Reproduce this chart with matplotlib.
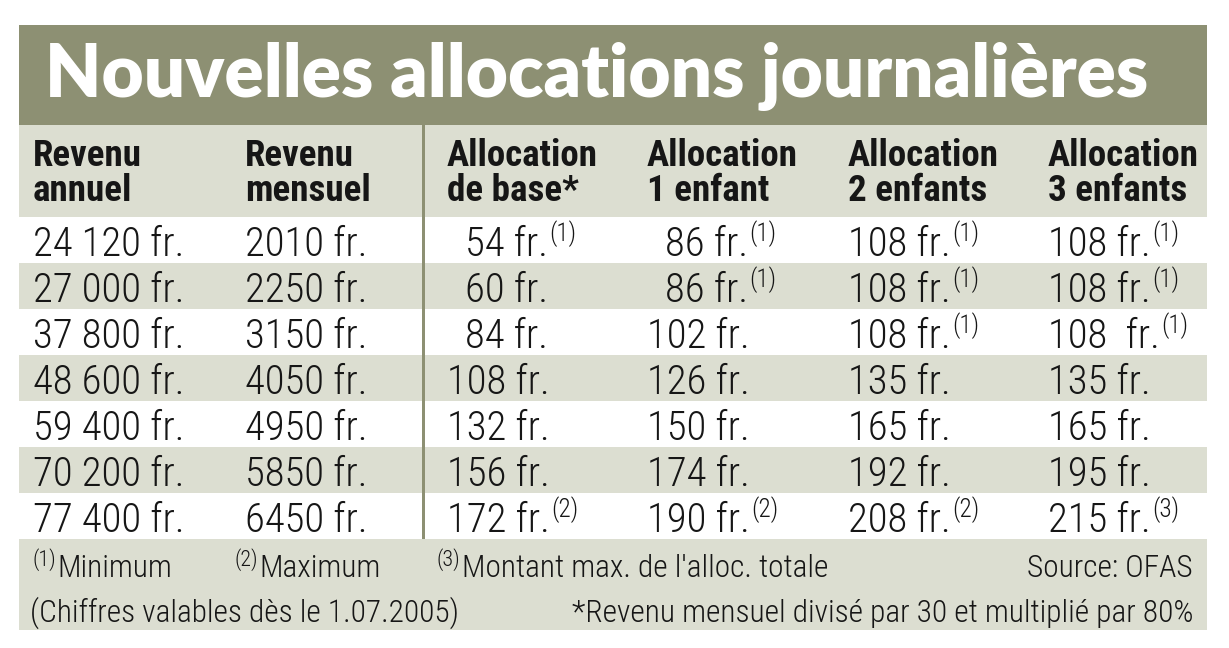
import matplotlib
matplotlib.use('Agg')
import matplotlib.pyplot as plt
from matplotlib import font_manager as fm
from matplotlib.patches import Rectangle
from matplotlib.textpath import TextPath

# ---------------- data ----------------
title = "Nouvelles allocations journalières"
headers = [("Revenu", "annuel"), ("Revenu", "mensuel"), ("Allocation", "de base*"),
           ("Allocation", "1 enfant"), ("Allocation", "2 enfants"), ("Allocation", "3 enfants")]
revenu_annuel = ["24 120", "27 000", "37 800", "48 600", "59 400", "70 200", "77 400"]
revenu_mensuel = [2010, 2250, 3150, 4050, 4950, 5850, 6450]
alloc_base = [54, 60, 84, 108, 132, 156, 172]
alloc_1 = [86, 86, 102, 126, 150, 174, 190]
alloc_2 = [108, 108, 108, 135, 165, 192, 208]
alloc_3 = [108, 108, 108, 135, 165, 195, 215]
notes_base = [1, None, None, None, None, None, 2]
notes_1 = [1, 1, None, None, None, None, 2]
notes_2 = [1, 1, 1, None, None, None, 2]
notes_3 = [1, 1, 1, None, None, None, 3]
sep_3 = [" ", " ", "  ", " ", " ", " ", " "]
footnotes = [("1", "Minimum"), ("2", "Maximum"), ("3", "Montant max. de l'alloc. totale")]
source = "Source: OFAS"
validity = "(Chiffres valables dès le 1.07.2005)"
base_note = "*Revenu mensuel divisé par 30 et multiplié par 80%"

# ---------------- style ----------------
W, H = 1229, 648
OLIVE = "#8d9073"
LIGHT = "#dcded1"
INK = "#161616"


def have(fam, weight="normal"):
    try:
        p = fm.findfont(fm.FontProperties(family=fam, weight=weight), fallback_to_default=False)
        return fm.FontProperties(fname=p).get_name().lower() == fam.lower()
    except Exception:
        return False


narrow = None
for cand in ["Roboto Condensed", "Liberation Sans Narrow", "DejaVu Sans Condensed", "Roboto"]:
    if have(cand):
        narrow = cand
        break
if narrow is None:
    narrow = "DejaVu Sans"
light_w = "light" if narrow.startswith("Roboto") else "normal"

fp_title = fm.FontProperties(family="Lato", weight="heavy")
fp_head = fm.FontProperties(family=narrow, weight="bold")
fp_data = fm.FontProperties(family=narrow, weight=light_w)


def ink_width(s, fp, size):
    return TextPath((0, 0), s, size=size, prop=fp).get_extents().width * 100 / 72


def fit(s, fp, target):
    return 20 * target / ink_width(s, fp, 20)


fs_title = fit(title, fp_title, 1097)
fs_head = fit("Allocation", fp_head, 149)
fs_data = fit("24 120 fr.", fp_data, 146)
fs_foot = fit("Montant max. de l'alloc. totale", fp_data, 362)
fs_sup = fs_data * 0.62
fs_fsup = fs_foot * 0.7

fig = plt.figure(figsize=(W / 100, H / 100), dpi=100)
ax = fig.add_axes([0, 0, 1, 1])
ax.set_xlim(0, W)
ax.set_ylim(H, 0)
ax.axis("off")

X0, X1 = 19, 1207
ROW_TOP, ROW_H = 217, 46
n_rows = len(revenu_mensuel)

# backgrounds
ax.add_patch(Rectangle((X0, 25), X1 - X0, 100, color=OLIVE, lw=0))
ax.add_patch(Rectangle((X0, 125), X1 - X0, ROW_TOP - 125, color=LIGHT, lw=0))
for i in range(n_rows):
    ax.add_patch(Rectangle((X0, ROW_TOP + i * ROW_H), X1 - X0, ROW_H,
                           color=(LIGHT if i % 2 else "white"), lw=0))
foot_top = ROW_TOP + n_rows * ROW_H
ax.add_patch(Rectangle((X0, foot_top), X1 - X0, 630 - foot_top, color=LIGHT, lw=0))
ax.add_patch(Rectangle((422, 125), 3, foot_top - 125, color=OLIVE, lw=0))

# title
ax.text(45, 97, title, fontproperties=fp_title, fontsize=fs_title, color="white",
        ha="left", va="baseline")

col_x = [33, 245, 447, 647, 848, 1048]
for x, (l1, l2) in zip(col_x, headers):
    ax.text(x, 166, l1, fontproperties=fp_head, fontsize=fs_head, color=INK, va="baseline")
    ax.text(x, 201, l2, fontproperties=fp_head, fontsize=fs_head, color=INK, va="baseline")

renderer = fig.canvas.get_renderer()
digit_w = TextPath((0, 0), "000", size=fs_data, prop=fp_data).get_extents().width * 100 / 72 / 3


def sup_after(t, label, size, dy, gap=4):
    bb = t.get_window_extent(renderer)
    y = t.get_position()[1]
    ax.text(bb.x1 + gap, y - dy, "(%s)" % label, fontproperties=fp_data, fontsize=size,
            color=INK, va="baseline")


alloc_cols = [(alloc_base, notes_base, None), (alloc_1, notes_1, None),
              (alloc_2, notes_2, None), (alloc_3, notes_3, sep_3)]
for i in range(n_rows):
    yb = ROW_TOP + i * ROW_H + 39
    ax.text(col_x[0], yb, f"{revenu_annuel[i]} fr.", fontproperties=fp_data,
            fontsize=fs_data, color=INK, va="baseline")
    ax.text(col_x[1], yb, f"{revenu_mensuel[i]} fr.", fontproperties=fp_data,
            fontsize=fs_data, color=INK, va="baseline")
    for j, (vals, notes, seps) in enumerate(alloc_cols):
        v = vals[i]
        sep = seps[i] if seps else " "
        x = col_x[2 + j] + (3 - len(str(v))) * digit_w
        t = ax.text(x, yb, f"{v}{sep}fr.", fontproperties=fp_data, fontsize=fs_data,
                    color=INK, va="baseline")
        if notes[i] is not None:
            sup_after(t, notes[i], fs_sup, 15, gap=1)

# footer
fy1, fy2 = foot_top + 38, foot_top + 83
for x, (num, txt) in zip([33, 235, 437], footnotes):
    s = ax.text(x, fy1 - 11, "(%s)" % num, fontproperties=fp_data, fontsize=fs_fsup,
                color=INK, va="baseline")
    bb = s.get_window_extent(renderer)
    ax.text(bb.x1 + 1, fy1, txt, fontproperties=fp_data, fontsize=fs_foot, color=INK,
            va="baseline")
ax.text(1193, fy1, source, fontproperties=fp_data, fontsize=fs_foot, color=INK,
        ha="right", va="baseline")
ax.text(30, fy2, validity, fontproperties=fp_data, fontsize=fs_foot, color=INK,
        va="baseline")
ax.text(1193, fy2, base_note, fontproperties=fp_data, fontsize=fs_foot, color=INK,
        ha="right", va="baseline")

fig.savefig("out.png", dpi=100, facecolor="white")
